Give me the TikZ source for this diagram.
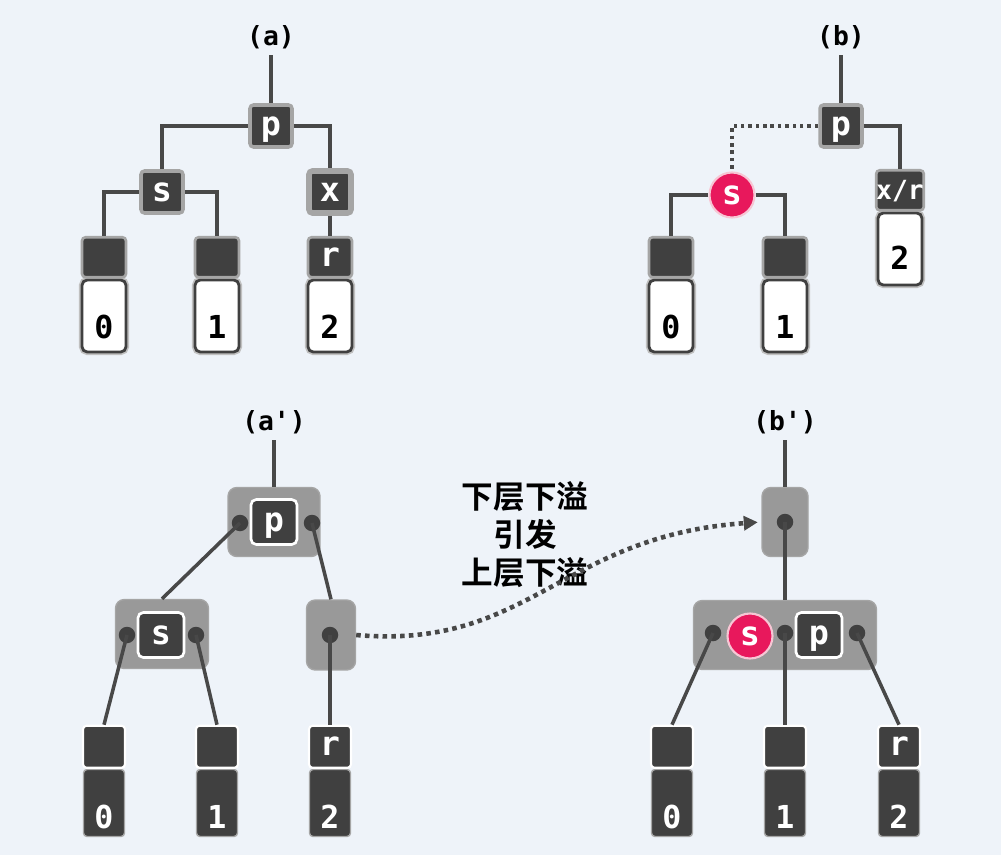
\documentclass[tikz,border=0pt]{standalone}
\usepackage{fontspec}
\usepackage{tikz}
\usetikzlibrary{arrows.meta,positioning}
\newfontfamily\monofont{DejaVu Sans Mono}
\newfontfamily\cjkfont{Noto Sans CJK SC}[BoldFont=Noto Sans CJK SC Bold]
\definecolor{bgcol}{HTML}{EEF3F9}
\definecolor{keycol}{HTML}{404040}
\definecolor{linecol}{HTML}{484848}
\definecolor{halocol}{HTML}{A5A5A5}
\definecolor{boxcol}{HTML}{999999}
\definecolor{redcol}{HTML}{E8185C}
\definecolor{pinkcol}{HTML}{F7C6D4}
\tikzset{
	edge/.style={draw=linecol,line width=2pt},
	tag/.style={inner sep=0.12cm,font=\monofont\bfseries\fontsize{15}{15}\selectfont},
	keyfont/.style={text=white,font=\monofont\bfseries\fontsize{19}{19}\selectfont,text height=10.4pt,text depth=0pt},
	KeyNode/.style={keyfont,fill=keycol,draw=halocol,line width=2pt,rounded corners=2pt,minimum width=0.84cm,minimum height=0.84cm,inner sep=0pt},
	LeafTop/.style={keyfont,fill=keycol,draw=halocol,line width=1.5pt,rounded corners=2pt,minimum width=0.88cm,minimum height=0.8cm,inner sep=0pt},
	LeafBody/.style={preaction={draw=halocol!70,line width=3.5pt},draw=keycol,fill=white,line width=1.6pt,rounded corners=3pt,minimum width=0.88cm,minimum height=1.44cm,inner sep=0pt,font=\monofont\bfseries\fontsize{18}{18}\selectfont,text height=0.9cm,text depth=0pt},
	OuterBox/.style={fill=boxcol,draw=halocol,line width=0.8pt,rounded corners=5pt,minimum height=1.38cm,inner sep=0pt},
	InnerKey/.style={keyfont,fill=keycol,draw=white,line width=1.5pt,rounded corners=3pt,minimum width=0.92cm,minimum height=0.9cm,inner sep=0pt},
	CircleNode/.style={keyfont,circle,fill=redcol,draw=pinkcol,line width=1.2pt,minimum size=0.9cm,inner sep=0pt},
	DotNode/.style={circle,fill=keycol,minimum size=0.33cm,inner sep=0pt},
	DarkTop/.style={keyfont,fill=keycol,draw=white,line width=1.2pt,rounded corners=2pt,minimum width=0.84cm,minimum height=0.84cm,inner sep=0pt},
	DarkBody/.style={fill=keycol,draw=halocol,line width=0.8pt,rounded corners=2pt,minimum width=0.82cm,minimum height=1.34cm,inner sep=0pt,text=white,font=\monofont\bfseries\fontsize{18}{18}\selectfont,text height=1.0cm,text depth=0pt},
	arrowline/.style={draw=linecol,line width=2.6pt,dash pattern=on 2.6pt off 2.4pt,-{Triangle[length=0.28cm,width=0.28cm]},shorten >=2pt},
	note/.style={align=center,font=\cjkfont\bfseries\fontsize{18}{21.6}\selectfont}
}
\begin{document}
\begin{tikzpicture}[x=0.02cm,y=-0.02cm]
	\fill[bgcol] (0,0) rectangle (1001,855);

	\node[tag] (tagA) at (271,37) {(a)};
	\node[KeyNode] (pA) at (271,126) {p};
	\node[KeyNode] (sA) at (162,192) {s};
	\node[KeyNode,line width=3.2pt] (xA) at (330,192) {x};
	\node[LeafBody] (a0b) at (104,316) {0};
	\node[LeafTop,above=0pt of a0b] (a0) {};
	\node[LeafBody] (a1b) at (217,316) {1};
	\node[LeafTop,above=0pt of a1b] (a1) {};
	\node[LeafBody] (a2b) at (330,316) {2};
	\node[LeafTop,above=0pt of a2b] (a2) {r};
	\draw[edge] (tagA) -- (pA);
	\draw[edge] (pA.west) -| (sA.north);
	\draw[edge] (pA.east) -| (xA.north);
	\draw[edge] (sA.west) -| (a0.north);
	\draw[edge] (sA.east) -| (a1.north);
	\draw[edge] (xA.south) -- (a2.north);

	\node[tag] (tagB) at (841,37) {(b)};
	\node[KeyNode] (pB) at (841,126) {p};
	\node[CircleNode] (sB) at (732,195) {s};
	\node[LeafBody] (b0b) at (671,316) {0};
	\node[LeafTop,above=0pt of b0b] (b0) {};
	\node[LeafBody] (b1b) at (785,316) {1};
	\node[LeafTop,above=0pt of b1b] (b1) {};
	\node[LeafBody,text height=0.82cm] (xrBb) at (900,249) {2};
	\node[LeafTop,above=0pt of xrBb,font=\monofont\bfseries\fontsize{15}{15}\selectfont] (xrB) {x/r};
	\draw[edge] (tagB) -- (pB);
	\draw[edge,dash pattern=on 2pt off 2.2pt] (pB.west) -| (sB.north);
	\draw[edge] (pB.east) -| (xrB.north);
	\draw[edge] (sB.west) -| (b0.north);
	\draw[edge] (sB.east) -| (b1.north);

	\node[tag] (tagA2) at (274,422) {(a\textquotesingle)};
	\node[OuterBox,minimum width=1.84cm] (pOutA) at (274,522) {};
	\node[InnerKey] (pInA) at (274,522) {p};
	\node[DotNode] (pLA) at (240,523) {};
	\node[DotNode] (pRA) at (312,523) {};
	\node[OuterBox,minimum width=1.86cm] (sOutA) at (162,634) {};
	\node[InnerKey] (sInA) at (161,635) {s};
	\node[DotNode] (sLA) at (127,635) {};
	\node[DotNode] (sRA) at (196,635) {};
	\node[OuterBox,minimum width=0.98cm,minimum height=1.4cm] (rOutA) at (331,635) {};
	\node[DotNode] (rDotA) at (330,635) {};
	\node[DarkBody] (c0b) at (104,803) {0};
	\node[DarkTop,above=0pt of c0b] (c0) {};
	\node[DarkBody] (c1b) at (217,803) {1};
	\node[DarkTop,above=0pt of c1b] (c1) {};
	\node[DarkBody] (c2b) at (330,803) {2};
	\node[DarkTop,above=0pt of c2b] (c2) {r};
	\draw[edge] (tagA2) -- (pOutA);
	\draw[edge] (pLA.center) -- (sOutA.north);
	\draw[edge] (pRA.center) -- (rOutA.north);
	\draw[edge] (sLA.center) -- (c0.north);
	\draw[edge] (sRA.center) -- (c1.north);
	\draw[edge] (rDotA.center) -- (c2.north);

	\node[tag] (tagB2) at (785,422) {(b\textquotesingle)};
	\node[OuterBox,minimum width=0.92cm] (topOutB) at (785,522) {};
	\node[DotNode] (topDotB) at (785,522) {};
	\node[OuterBox,minimum width=3.66cm] (bigOutB) at (785,635) {};
	\node[DotNode] (dLB) at (713,633) {};
	\node[DotNode] (dMB) at (785,633) {};
	\node[DotNode] (dRB) at (857,633) {};
	\node[CircleNode] (sB2) at (750,636) {s};
	\node[InnerKey] (pB2) at (819,635) {p};
	\node[DarkBody] (d0b) at (672,803) {0};
	\node[DarkTop,above=0pt of d0b] (d0) {};
	\node[DarkBody] (d1b) at (785,803) {1};
	\node[DarkTop,above=0pt of d1b] (d1) {};
	\node[DarkBody] (d2b) at (899,803) {2};
	\node[DarkTop,above=0pt of d2b] (d2) {r};
	\draw[edge] (tagB2) -- (topOutB);
	\draw[edge] (topDotB.center) -- (bigOutB.north);
	\draw[edge] (dLB.center) -- (d0.north);
	\draw[edge] (dMB.center) -- (d1.north);
	\draw[edge] (dRB.center) -- (d2.north);

	\node[note] (noteC) at (525,535) {下层下溢\\引发\\上层下溢};
	\draw[arrowline] (rOutA.east) .. controls (530,650) and (560,536) .. (topOutB.west);
\end{tikzpicture}
\end{document}
